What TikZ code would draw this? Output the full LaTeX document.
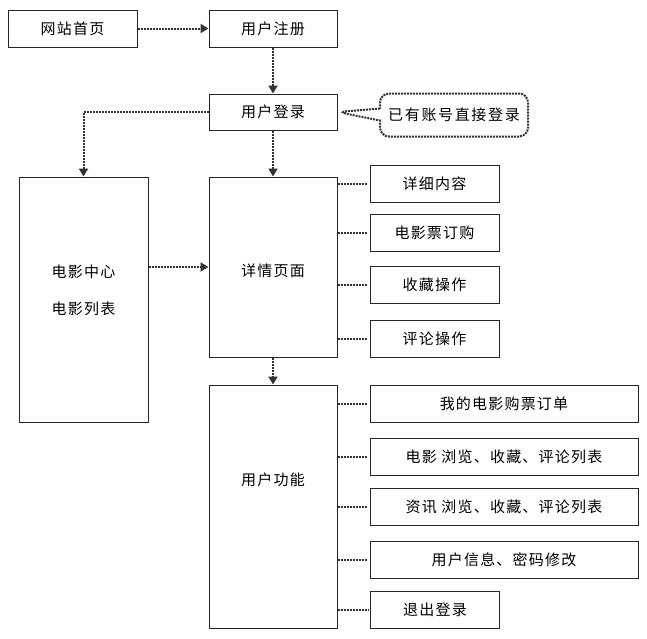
\documentclass[tikz,border=0pt]{standalone}
\usepackage{fontspec}
\setmainfont{Noto Sans CJK SC}[LetterSpace=8]
\usetikzlibrary{positioning,arrows.meta,shapes.callouts}

\tikzset{
    box/.style={draw=black!85, line width=1pt, rectangle, inner sep=0pt, minimum height=37pt, font=\fontsize{15pt}{18pt}\selectfont},
    smallbox/.style={box, minimum width=129pt},
    widebox/.style={box, minimum width=268pt},
    boxtext/.style={inner sep=0pt, align=center, font=\fontsize{15pt}{18pt}\selectfont},
    dotline/.style={draw=black!80, line width=2pt, dash pattern=on 2pt off 1pt},
    flow/.style={dotline, -{Triangle[length=8pt,width=9pt]}},
}

\begin{document}
\begin{tikzpicture}[x=1pt, y=-1pt]
    \useasboundingbox (0,0) rectangle (647,638);

    % Login path
    \node[smallbox] (home) at (72.5,28.5) {网站首页};
    \node[box, minimum width=128pt] (reg) at (273,28.5) {用户注册};
    \node[box, minimum width=128pt, minimum height=36pt] (login) at (273,112) {用户登录};
    \node[rectangle callout, dotline, rounded corners=9pt, minimum width=148pt, minimum height=43pt, inner sep=0pt,
          callout absolute pointer={(login.east)}, callout pointer width=12pt,
          font=\fontsize{15pt}{18pt}\selectfont\addfontfeature{LetterSpace=11}] (note) at (454,115) {已有账号直接登录};

    % Movie center and detail page
    \node[box, minimum width=129pt, minimum height=245pt] (center) at (83.5,299.5) {};
    \node[boxtext] (centertext) at (83.5,290.5) {电影中心\\[19pt]电影列表};
    \node[box, minimum width=128pt, minimum height=180pt] (detail) at (273,267) {};
    \node[boxtext] (detailtext) at (273,271) {详情页面};
    \node[smallbox] (info) at (434.5,184) {详细内容};
    \node[smallbox] (ticket) at (434.5,233) {电影票订购};
    \node[smallbox] (fav) at (434.5,285) {收藏操作};
    \node[smallbox] (cmt) at (434.5,339) {评论操作};

    % User functions
    \node[box, minimum width=128pt, minimum height=243pt] (func) at (273,506.5) {};
    \node[boxtext] (functext) at (273,480) {用户功能};
    \node[widebox] (order) at (504,403.5) {我的电影购票订单};
    \node[widebox] (movielist) at (504,457) {电影 浏览、收藏、评论列表};
    \node[widebox] (newslist) at (504,507) {资讯 浏览、收藏、评论列表};
    \node[widebox] (userinfo) at (504,560) {用户信息、密码修改};
    \node[smallbox] (logout) at (435,610) {退出登录};

    % Connectors
    \draw[flow] (home) -- (reg);
    \draw[flow] (reg) -- (login);
    \draw[flow] (login.west) -| (center.north);
    \draw[flow] (login) -- (detail);
    \draw[flow] (center.east |- detail) -- (detail);
    \draw[flow] (detail) -- (func);
    \foreach \b in {info,ticket,fav,cmt}
        \draw[dotline, shorten >=2pt] (detail.east |- \b.west) -- (\b.west);
    \foreach \b in {order,movielist,newslist,userinfo,logout}
        \draw[dotline, shorten >=2pt] (func.east |- \b.west) -- (\b.west);
\end{tikzpicture}
\end{document}
